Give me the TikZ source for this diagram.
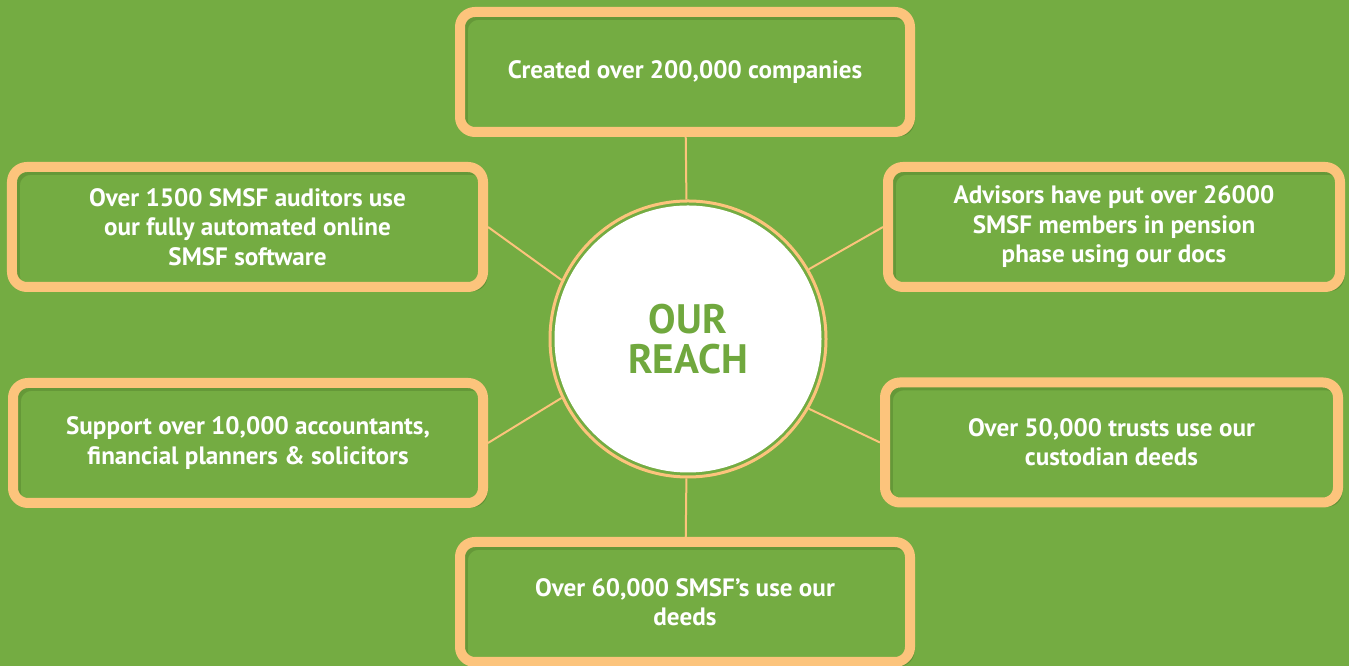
\documentclass[tikz,border=0pt]{standalone}
\usepackage{fontspec}
\setmainfont{PT Sans}
\usetikzlibrary{shadows}

\definecolor{leaf}{RGB}{116,172,66}
\definecolor{leafdark}{RGB}{92,140,50}
\definecolor{peach}{RGB}{252,196,124}
\definecolor{reachgreen}{RGB}{112,168,62}

\begin{document}
\begin{tikzpicture}[
    fact/.style={draw=peach, fill=leaf, line width=0.2cm, rounded corners=0.3cm,
        minimum height=2.4cm, align=center, text=white,
        font=\fontsize{14.3pt}{16.7pt}\selectfont\bfseries,
        drop shadow={shadow xshift=2.5pt, shadow yshift=-2.5pt, fill=leafdark, opacity=0.8},
        path picture={\draw[leafdark, line width=5pt, opacity=0.6, rounded corners=0.3cm]
            ([shift={(2pt,-2pt)}]path picture bounding box.north west) rectangle
            ([shift={(2pt,-2pt)}]path picture bounding box.south east);}},
    hub/.style={circle, draw=peach, fill=leaf, line width=0.06cm, minimum size=5.52cm,
        text=reachgreen, align=center, font=\fontsize{23.4pt}{22.7pt}\selectfont\bfseries,
        path picture={\fill[white] (path picture bounding box.center) circle (2.67cm);}},
    link/.style={draw=peach, line width=0.04cm}
]
    \fill[leaf] (0,0) rectangle (26.98,13.32);
    \useasboundingbox (0,0) rectangle (26.98,13.32);

    \node[hub] (reach) at (13.76,6.54) {OUR\\REACH};

    \node[fact, minimum width=9cm] (companies) at (13.7,11.88) {Created over 200,000 companies};
    \node[fact, minimum width=9.42cm] (auditors) at (4.95,8.78) {Over 1500 SMSF auditors use\\our fully automated online\\SMSF software};
    \node[fact, minimum width=9.04cm] (pension) at (22.28,8.78) {Advisors have put over 26000\\SMSF members in pension\\phase using our docs};
    \node[fact, minimum width=9.4cm] (advisers) at (4.96,4.46) {Support over 10,000 accountants,\\financial planners \& solicitors};
    \node[fact, minimum width=9.06cm] (trusts) at (22.23,4.47) {Over 50,000 trusts use our\\custodian deeds};
    \node[fact, minimum width=9cm] (deeds) at (13.7,1.28) {Over 60,000 SMSF’s use our\\deeds};

    % spokes
    \draw[link] (companies) -- (reach);
    \draw[link] (deeds) -- (reach);
    \draw[link] (auditors.east) -- (reach.155);
    \draw[link] (advisers.east) -- (reach.205);
    \draw[link] (pension.west) -- (reach.30);
    \draw[link] (trusts.west) -- (reach.-30);
\end{tikzpicture}
\end{document}
